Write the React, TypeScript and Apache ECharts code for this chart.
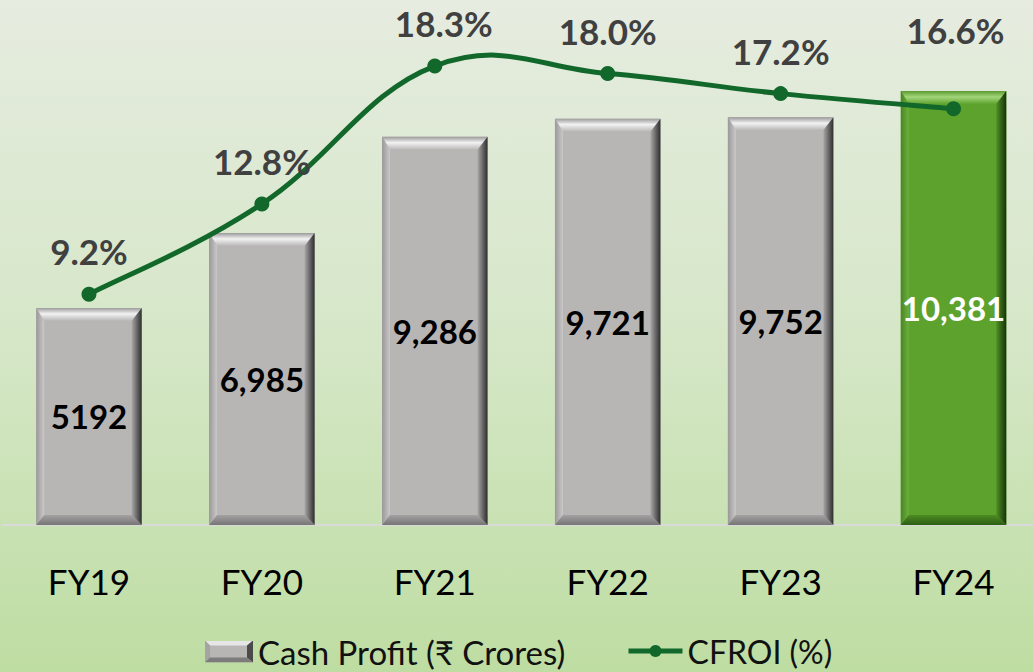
import React, { useEffect, useRef } from 'react';
import * as echarts from 'echarts';

const categories = ['FY19', 'FY20', 'FY21', 'FY22', 'FY23', 'FY24'];
const cashProfit = [5192, 6985, 9286, 9721, 9752, 10381];
const cashProfitLabels = ['5192', '6,985', '9,286', '9,721', '9,752', '10,381'];
const cfroi = [9.2, 12.8, 18.3, 18.0, 17.2, 16.6];

const BAR_NAME = 'Cash Profit (₹ Crores)';
const LINE_NAME = 'CFROI (%)';
const HIGHLIGHT = 5;
const FONT = 'Lato, "Noto Sans", "DejaVu Sans", sans-serif';
const LINE_COLOR = '#12682a';
const TENSION = 0.2;

const GRAY = {
  face: '#b8b5b5', topEdge: '#9c9a9a', topHi: '#f2f2f2', leftA: '#9a9898', leftB: '#cac8c8',
  rightA: '#a9a6a6', rightB: '#2e2e2e', botA: '#a3a1a1', botB: '#767474', text: '#000000',
};
const GREEN = {
  face: '#5ea22e', topEdge: '#5c9a30', topHi: '#a3d67a', leftA: '#4a8524', leftB: '#6cb03c',
  rightA: '#4f8f25', rightB: '#16330a', botA: '#4d8b22', botB: '#2d5e14', text: '#ffffff',
};

const lg = (x1: number, y1: number, x2: number, y2: number, stops: [number, string][]) =>
  new echarts.graphic.LinearGradient(x1, y1, x2, y2, stops.map(([offset, color]) => ({ offset, color })));

const renderBar = (params: any, api: any) => {
  const idx = params.dataIndex;
  const ci = api.value(0);
  const v = api.value(1);
  const top = api.coord([ci, v]);
  const base = api.coord([ci, 0]);
  const w = api.size([1, 0])[0] * 0.61;
  const x = top[0] - w / 2;
  const y = top[1];
  const h = base[1] - top[1];
  const p = idx === HIGHLIGHT ? GREEN : GRAY;
  const bt = 13, bb = 10, bl = 8, br = 10;
  return {
    type: 'group',
    children: [
      { type: 'rect', shape: { x, y, width: w, height: h }, style: { fill: p.face } },
      {
        type: 'polygon',
        shape: { points: [[x, y], [x + w, y], [x + w - br, y + bt], [x + bl, y + bt]] },
        style: { fill: lg(0, 0, 0, 1, [[0, p.topEdge], [0.45, p.topHi], [1, p.face]]) },
      },
      {
        type: 'polygon',
        shape: { points: [[x, y], [x + bl, y + bt], [x + bl, y + h - bb], [x, y + h]] },
        style: { fill: lg(0, 0, 1, 0, [[0, p.leftA], [1, p.leftB]]) },
      },
      {
        type: 'polygon',
        shape: { points: [[x + w, y], [x + w, y + h], [x + w - br, y + h - bb], [x + w - br, y + bt]] },
        style: { fill: lg(0, 0, 1, 0, [[0, p.rightA], [1, p.rightB]]) },
      },
      {
        type: 'polygon',
        shape: { points: [[x, y + h], [x + bl, y + h - bb], [x + w - br, y + h - bb], [x + w, y + h]] },
        style: { fill: lg(0, 0, 0, 1, [[0, p.botA], [1, p.botB]]) },
      },
      {
        type: 'text',
        x: x + w / 2,
        y: y + h / 2,
        style: {
          text: cashProfitLabels[idx],
          align: 'center',
          verticalAlign: 'middle',
          fill: p.text,
          fontSize: 33,
          fontWeight: 'bold',
          fontFamily: FONT,
        },
      },
    ],
  };
};

// Smooth (Catmull-Rom style) curve segment between consecutive CFROI points
const renderCurve = (params: any, api: any) => {
  const i = params.dataIndex;
  const n = cfroi.length;
  if (i >= n - 1) return { type: 'group', children: [] };
  const pt = (j: number) => {
    const k = Math.max(0, Math.min(n - 1, j));
    return api.coord([k, cfroi[k]]);
  };
  const p0 = pt(i - 1), p1 = pt(i), p2 = pt(i + 1), p3 = pt(i + 2);
  return {
    type: 'bezierCurve',
    shape: {
      x1: p1[0], y1: p1[1],
      cpx1: p1[0] + (p2[0] - p0[0]) * TENSION, cpy1: p1[1] + (p2[1] - p0[1]) * TENSION,
      cpx2: p2[0] - (p3[0] - p1[0]) * TENSION, cpy2: p2[1] - (p3[1] - p1[1]) * TENSION,
      x2: p2[0], y2: p2[1],
    },
    style: { stroke: LINE_COLOR, lineWidth: 5, fill: 'none' },
  };
};

const legendIconSvg =
  "<svg xmlns='http://www.w3.org/2000/svg' width='48' height='22'>" +
  "<rect width='48' height='22' fill='#b8b5b5'/>" +
  "<polygon points='0,0 48,0 42,5 5,5' fill='#e6e6e6'/>" +
  "<polygon points='0,0 5,5 5,17 0,22' fill='#a5a3a3'/>" +
  "<polygon points='48,0 48,22 42,17 42,5' fill='#4a4a4a'/>" +
  "<polygon points='0,22 5,17 42,17 48,22' fill='#7d7b7b'/>" +
  '</svg>';
const legendIcon = 'image://data:image/svg+xml;utf8,' + encodeURIComponent(legendIconSvg);

const labelOffsets: Record<number, [number, number]> = { 2: [9, 0], 5: [2, -36] };

const option: any = {
  animation: false,
  backgroundColor: lg(0, 0, 0, 1, [[0, '#e6ece0'], [0.5, '#d6e7c8'], [1, '#bedda2']]),
  textStyle: { fontFamily: FONT },
  grid: { left: 2.5, right: -7, top: 23.4, bottom: 147, containLabel: false, outerBoundsMode: 'none' },
  xAxis: {
    type: 'category',
    data: categories,
    axisLine: { show: true, lineStyle: { color: '#d9d9d9', width: 2 } },
    axisTick: { show: false },
    axisLabel: { color: '#000000', fontSize: 35, fontFamily: FONT, margin: 38 },
  },
  yAxis: [
    { type: 'value', min: 0, max: 12000, show: false, splitLine: { show: false } },
    { type: 'value', min: 0, max: 20, show: false, splitLine: { show: false } },
  ],
  legend: [
    {
      left: 205,
      top: 635,
      padding: 0,
      itemWidth: 48,
      itemHeight: 22,
      textStyle: { fontSize: 33, color: '#111111', fontFamily: FONT },
      data: [{ name: BAR_NAME, icon: legendIcon }],
    },
    {
      left: 626,
      top: 635,
      padding: 0,
      itemWidth: 54,
      itemHeight: 15,
      lineStyle: { color: LINE_COLOR, width: 5, opacity: 1 },
      textStyle: { fontSize: 32, color: '#111111', fontFamily: FONT },
      data: [{ name: LINE_NAME }],
    },
  ],
  series: [
    {
      name: BAR_NAME,
      type: 'custom',
      renderItem: renderBar,
      itemStyle: { color: '#b8b5b5' },
      encode: { x: 0, y: 1 },
      data: cashProfit.map((v, i) => [i, v]),
      z: 2,
    },
    {
      name: 'CFROI curve',
      type: 'custom',
      yAxisIndex: 1,
      renderItem: renderCurve,
      encode: { x: 0, y: 1 },
      data: cfroi.map((v, i) => [i, v]),
      z: 3,
    },
    {
      name: LINE_NAME,
      type: 'line',
      yAxisIndex: 1,
      symbol: 'circle',
      symbolSize: 15,
      lineStyle: { color: LINE_COLOR, width: 0, opacity: 0 },
      itemStyle: { color: LINE_COLOR },
      label: {
        show: true,
        position: 'top',
        distance: 18,
        color: '#404040',
        fontSize: 35,
        fontWeight: 'bold',
        fontFamily: FONT,
        formatter: (p: any) => Number(p.value).toFixed(1) + '%',
      },
      data: cfroi.map((v, i) => (labelOffsets[i] ? { value: v, label: { offset: labelOffsets[i] } } : v)),
      z: 4,
    },
  ],
};

export default function App() {
  const ref = useRef<HTMLDivElement>(null);
  useEffect(() => {
    const chart = echarts.init(ref.current!, null, { renderer: 'svg' });
    chart.setOption(option);
    return () => chart.dispose();
  }, []);
  return <div ref={ref} style={{ position: 'fixed', left: 0, top: 0, width: 1033, height: 672 }} />;
}
